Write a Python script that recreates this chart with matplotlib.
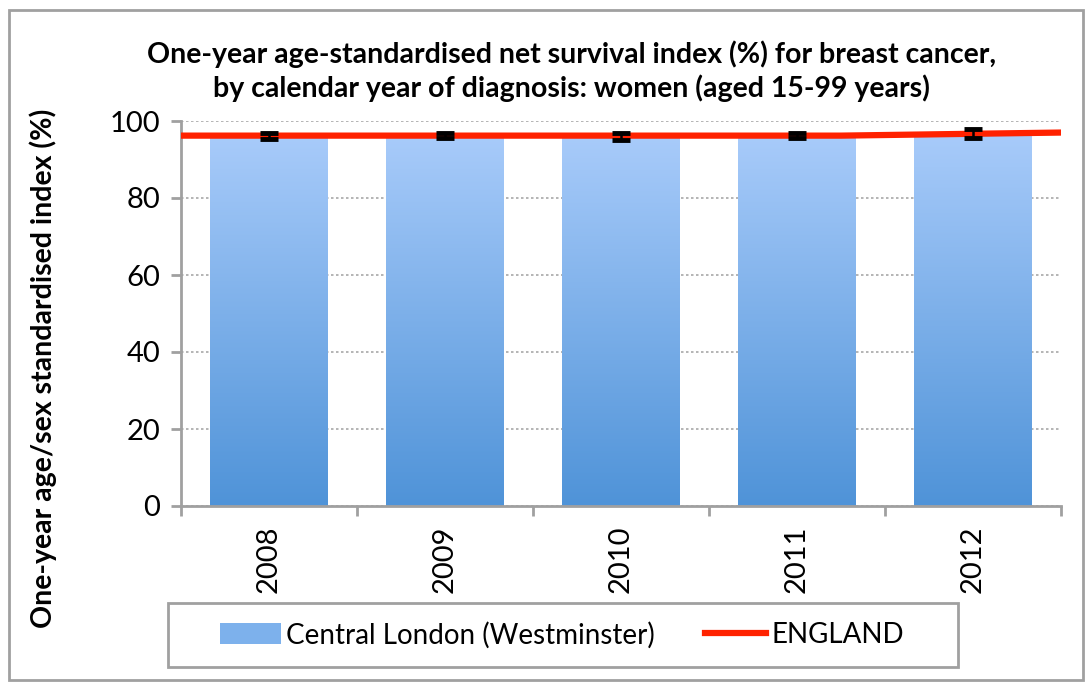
import numpy as np
import matplotlib
matplotlib.use("Agg")
import matplotlib.pyplot as plt
from matplotlib.colors import LinearSegmentedColormap
from matplotlib.patches import Rectangle
from matplotlib.lines import Line2D

YEARS = ["2008", "2009", "2010", "2011", "2012"]
WESTMINSTER = [96.2, 96.2, 96.0, 96.2, 96.7]
WESTMINSTER_ERR = [0.8, 0.7, 1.0, 0.7, 1.2]
ENGLAND = [96.2, 96.2, 96.2, 96.2, 97.0]
Y_TICKS = [0, 20, 40, 60, 80, 100]

plt.rcParams["font.family"] = ["Lato", "DejaVu Sans"]
GREY = "#a0a0a0"
blues = LinearSegmentedColormap.from_list("bar", ["#4f93d8", "#a8cbfa"])

W, H = 1092, 682
fig = plt.figure(figsize=(W / 100, H / 100), dpi=100)
ax = fig.add_axes([181 / W, 1 - 506 / H, 880 / W, 385 / H])

x = np.arange(len(YEARS))
bars = ax.bar(x, WESTMINSTER, width=0.67, color="none", zorder=2)
grad = np.linspace(0, 1, 256).reshape(-1, 1)
for b in bars:
    x0, w, h = b.get_x(), b.get_width(), b.get_height()
    ax.imshow(grad, extent=[x0, x0 + w, 0, h], origin="lower", cmap=blues,
              aspect="auto", zorder=2)
ax.errorbar(x, WESTMINSTER, yerr=WESTMINSTER_ERR, fmt="none", ecolor="black",
            elinewidth=1.8, capsize=6.5, capthick=3.5, zorder=4)

ax.set_xlim(-0.5, len(YEARS) - 0.5)
ax.set_ylim(0, 100)
# England line runs edge to edge (secondary axis style)
ex = np.linspace(-0.5, len(YEARS) - 0.5, len(ENGLAND))
ax.plot(ex, ENGLAND, color="#ff2200", lw=4.5, solid_capstyle="round", zorder=3)

ax.set_yticks(Y_TICKS)
ax.set_yticklabels([str(v) for v in Y_TICKS], fontsize=21)
ax.yaxis.grid(True, ls=(0, (1.5, 1.5)), color="#a8a8a8", lw=1.2)
ax.set_axisbelow(True)
ax.set_xticks(x)
ax.set_xticklabels(YEARS, rotation=90, fontsize=21)
ax.set_xticks(np.arange(-0.5, len(YEARS)), minor=True)
ax.tick_params(axis="x", which="major", length=0, pad=14)
ax.tick_params(axis="x", which="minor", length=7, width=2, color=GREY)
ax.tick_params(axis="y", length=7, width=2, color=GREY, pad=8)
for s in ["top", "right"]:
    ax.spines[s].set_visible(False)
for s in ["left", "bottom"]:
    ax.spines[s].set_color(GREY)
    ax.spines[s].set_linewidth(2)

ax.set_ylabel("One-year age/sex standardised index (%)", fontsize=20.5,
              fontweight="bold")
ax.yaxis.set_label_coords(-0.141, 0.358)

fig.text(0.523, 1 - 71 / H,
         "One-year age-standardised net survival index (%) for breast cancer,\n"
         "by calendar year of diagnosis: women (aged 15-99 years)",
         ha="center", va="center", fontsize=20.5, fontweight="bold",
         linespacing=1.3)

# legend frame and outer border
fig.patches.append(Rectangle((168 / W, 1 - 667 / H), 790 / W, 64 / H,
                             transform=fig.transFigure, fill=False,
                             edgecolor=GREY, lw=2))
fig.patches.append(Rectangle((9 / W, 2 / H), 1074 / W, 1 - 12 / H,
                             transform=fig.transFigure, fill=False,
                             edgecolor=GREY, lw=2))
handles = [Rectangle((0, 0), 1, 1, facecolor="#7db1ec"),
           Line2D([], [], color="#ff2200", lw=4.5)]
fig.legend(handles, ["Central London (Westminster)", "ENGLAND"],
           loc="center", bbox_to_anchor=(562 / W, 1 - 635 / H), ncol=2,
           frameon=False, fontsize=20, handlelength=2.2, handleheight=0.8,
           columnspacing=1.8, handletextpad=0.2)

fig.savefig("out.png", dpi=100)
